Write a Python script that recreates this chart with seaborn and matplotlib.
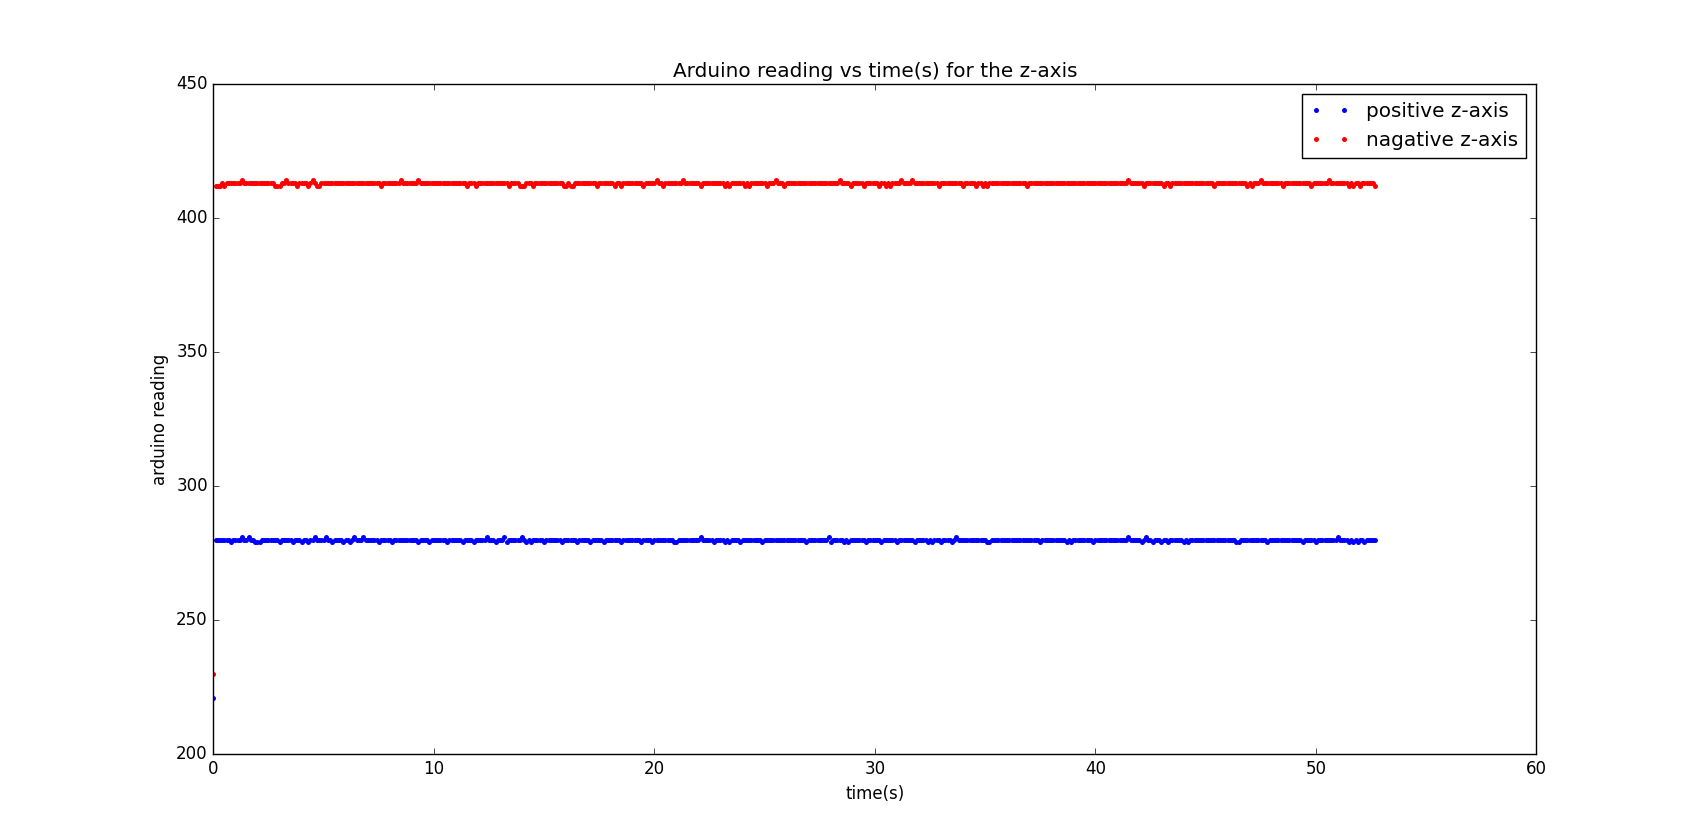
import numpy as np
import pandas as pd
import matplotlib
matplotlib.use("Agg")
import matplotlib.pyplot as plt
from matplotlib.lines import Line2D
import seaborn as sns

# ==============================
# DATA
# ==============================

dt = 0.1
t_end = 52.7

# first sample of each series
pos_first = 221
neg_first = 230

# positive z-axis: baseline plus dips / rises
pos_base = 280
pos_low_t = [0.8, 1.9, 2.0, 2.1, 3.0, 3.6, 4.0, 4.3, 5.4, 5.9, 6.2, 7.5, 8.1, 9.3,
             9.8, 10.6, 11.3, 11.8, 12.8, 13.3, 14.2, 14.4, 15.0, 15.8, 16.5, 17.1,
             17.7, 18.5, 19.4, 19.9, 20.9, 21.0, 22.7, 23.2, 23.4, 23.9, 24.9, 26.9,
             28.0, 28.6, 28.8, 29.6, 30.3, 31.0, 31.8, 32.4, 32.6, 33.0, 33.5, 35.1,
             35.2, 37.5, 38.7, 38.9, 39.9, 42.1, 42.6, 43.0, 43.3, 44.0, 44.2, 46.4,
             46.5, 47.8, 49.4, 50.0, 51.5, 51.7, 51.9, 52.2]
pos_high_t = [1.3, 1.6, 4.6, 5.1, 6.4, 6.8, 12.4, 13.2, 14.0, 22.1, 27.9, 33.7,
              41.5, 42.3, 51.0]

# negative z-axis
neg_base = 413
neg_low_t = [0.1, 0.2, 0.3, 0.5, 2.8, 2.9, 3.0, 3.8, 4.3, 4.7, 4.8, 7.6, 11.5, 11.9,
             13.4, 13.9, 14.0, 14.1, 14.5, 15.9, 16.0, 16.2, 16.3, 17.4, 18.2, 18.5,
             19.5, 20.4, 22.1, 23.2, 23.4, 24.1, 24.3, 25.1, 25.9, 28.9, 29.5, 30.2,
             30.5, 30.7, 32.9, 34.0, 34.6, 34.9, 35.1, 36.9, 42.2, 43.1, 43.4, 45.4,
             46.9, 47.1, 48.5, 49.8, 51.5, 51.7, 52.0, 52.7]
neg_high_t = [1.3, 3.3, 4.5, 8.5, 9.3, 20.1, 21.3, 25.5, 28.4, 31.2, 31.7, 41.5,
              47.5, 50.6]

labels = ["positive z-axis", "nagative z-axis"]
colors = ["blue", "red"]

# ==============================
# BUILD SERIES
# ==============================

time = np.round(np.arange(0, t_end + dt / 2, dt), 1)


def build(base, first, low_t, high_t):
    vals = np.full(len(time), base, dtype=float)
    idx_low = np.round(np.array(low_t) / dt).astype(int)
    idx_high = np.round(np.array(high_t) / dt).astype(int)
    vals[idx_low] = base - 1
    vals[idx_high] = base + 1
    vals[0] = first
    return vals


pos = build(pos_base, pos_first, pos_low_t, pos_high_t)
neg = build(neg_base, neg_first, neg_low_t, neg_high_t)

df = pd.concat([
    pd.DataFrame({"time": time, "reading": pos, "axis": labels[0]}),
    pd.DataFrame({"time": time, "reading": neg, "axis": labels[1]}),
])

# ==============================
# PLOT
# ==============================

plt.style.use("classic")

fig, ax = plt.subplots(figsize=(17.07, 8.38), dpi=100)
fig.subplots_adjust(left=0.125, right=0.9, bottom=0.1, top=0.9)

sns.lineplot(
    data=df, x="time", y="reading", hue="axis",
    hue_order=labels, palette=dict(zip(labels, colors)),
    estimator=None, sort=False, linestyle="", marker="o",
    markersize=3.6, markeredgewidth=0, legend=False, ax=ax
)

ax.set_xlim(0, 60)
ax.set_ylim(200, 450)
ax.set_xticks(np.arange(0, 61, 10))
ax.set_yticks(np.arange(200, 451, 50))

ax.set_title("Arduino reading vs time(s) for the z-axis")
ax.set_xlabel("time(s)")
ax.set_ylabel("arduino reading")

handles = [Line2D([], [], linestyle="", marker="o", markersize=3.6,
                  markeredgewidth=0, color=c) for c in colors]
ax.legend(handles, labels, loc="upper right", numpoints=2)

fig.savefig("out.png", dpi=100)
